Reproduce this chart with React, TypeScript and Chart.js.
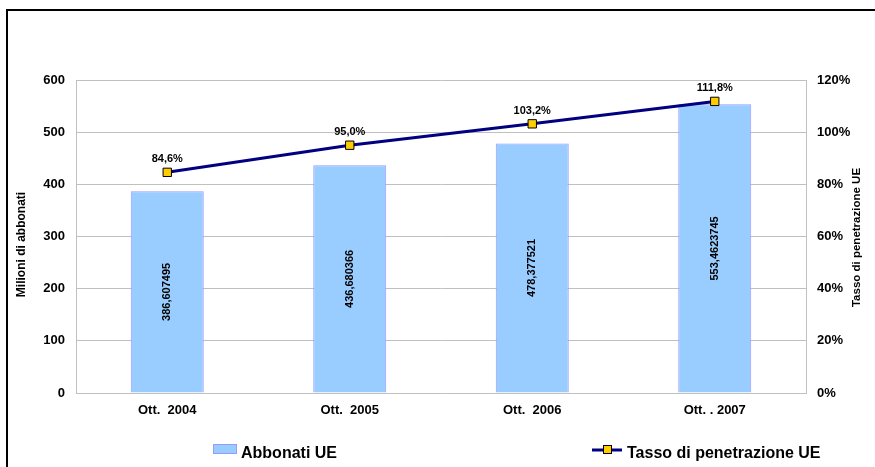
import React, { useEffect, useRef } from "react";
import { Chart, registerables } from "chart.js";

Chart.register(...registerables);

const categories = ["Ott.  2004", "Ott.  2005", "Ott.  2006", "Ott. . 2007"];
const abbonati = [386.607495, 436.680366, 478.377521, 553.4623745];
const tasso = [84.6, 95.0, 103.2, 111.8];
const leftMax = 600;
const leftStep = 100;
const rightMax = 120;
const rightStep = 20;
const leftTitle = "Milioni di abbonati";
const rightTitle = "Tasso di penetrazione UE";
const barLegend = "Abbonati UE";
const lineLegend = "Tasso di penetrazione UE";

const FF = '"Liberation Sans", Arial, Helvetica, sans-serif';
const BAR_FILL = "#99ccff";
const BAR_BORDER = "#9999ff";
const LINE_COLOR = "#000080";
const MARKER_FILL = "#ffcc00";
const GRID = "#c0c0c0";

const fmtNum = (v: number) => String(v).replace(".", ",");
const fmtPct = (v: number) => v.toFixed(1).replace(".", ",") + "%";

const overlay = {
  id: "overlay",
  afterDatasetsDraw(chart: any) {
    const ctx = chart.ctx as CanvasRenderingContext2D;
    ctx.save();
    ctx.fillStyle = "#000";
    ctx.textAlign = "center";
    ctx.textBaseline = "middle";
    // bar value labels (rotated)
    ctx.font = `bold 11px ${FF}`;
    const barMeta = chart.getDatasetMeta(1);
    barMeta.data.forEach((el: any, i: number) => {
      const p = el.getProps(["x", "y", "base"], true);
      ctx.save();
      ctx.translate(p.x, (p.y + p.base) / 2);
      ctx.rotate(-Math.PI / 2);
      ctx.fillText(fmtNum(abbonati[i]), 0, 0);
      ctx.restore();
    });
    // point labels
    const lineMeta = chart.getDatasetMeta(0);
    lineMeta.data.forEach((el: any, i: number) => {
      const p = el.getProps(["x", "y"], true);
      ctx.fillText(fmtPct(tasso[i]), p.x, p.y - 13);
    });
    ctx.restore();
  },
  afterDraw(chart: any) {
    const ctx = chart.ctx as CanvasRenderingContext2D;
    const ca = chart.chartArea;
    const cy = (ca.top + ca.bottom) / 2;
    ctx.save();
    ctx.fillStyle = "#000";
    ctx.textAlign = "center";
    ctx.textBaseline = "middle";
    // axis titles
    ctx.font = `bold 12px ${FF}`;
    ctx.save();
    ctx.translate(22, cy + 8);
    ctx.rotate(-Math.PI / 2);
    ctx.fillText(leftTitle, 0, 0);
    ctx.restore();
    ctx.font = `bold 11.5px ${FF}`;
    ctx.save();
    ctx.translate(857, cy + 1);
    ctx.rotate(-Math.PI / 2);
    ctx.fillText(rightTitle, 0, 0);
    ctx.restore();

    // legend
    ctx.font = `bold 16px ${FF}`;
    ctx.textAlign = "left";
    ctx.textBaseline = "alphabetic";
    ctx.fillStyle = BAR_FILL;
    ctx.fillRect(213, 444, 24, 10);
    ctx.strokeStyle = BAR_BORDER;
    ctx.lineWidth = 1;
    ctx.strokeRect(213.5, 444.5, 23, 9);
    ctx.fillStyle = "#000";
    ctx.fillText(barLegend, 241, 458);

    ctx.strokeStyle = LINE_COLOR;
    ctx.lineWidth = 3;
    ctx.beginPath();
    ctx.moveTo(592, 450);
    ctx.lineTo(622, 450);
    ctx.stroke();
    ctx.fillStyle = MARKER_FILL;
    ctx.fillRect(603, 445, 9, 9);
    ctx.strokeStyle = "#000";
    ctx.lineWidth = 1;
    ctx.strokeRect(603.5, 445.5, 8, 8);
    ctx.fillStyle = "#000";
    ctx.fillText(lineLegend, 627, 458);
    ctx.restore();
  },
};

export default function App() {
  const ref = useRef<HTMLCanvasElement | null>(null);

  useEffect(() => {
    if (!ref.current) return;
    const tickFont = { family: FF, size: 13, weight: "bold" as const };
    const chart = new Chart(ref.current, {
      type: "bar",
      data: {
        labels: categories,
        datasets: [
          {
            type: "line" as const,
            label: lineLegend,
            data: tasso,
            yAxisID: "y1",
            borderColor: LINE_COLOR,
            borderWidth: 3,
            pointStyle: "rect",
            pointRadius: 5.9,
            pointBackgroundColor: MARKER_FILL,
            pointBorderColor: "#000",
            pointBorderWidth: 1,
            tension: 0,
            order: 0,
          },
          {
            type: "bar" as const,
            label: barLegend,
            data: abbonati,
            yAxisID: "y",
            backgroundColor: BAR_FILL,
            borderColor: BAR_BORDER,
            borderWidth: 1,
            categoryPercentage: 1,
            barPercentage: 0.4,
            order: 1,
          },
        ],
      },
      options: {
        animation: false,
        responsive: false,
        layout: { padding: { top: 80, left: 0, right: 0, bottom: 0 } },
        plugins: {
          legend: { display: false },
          tooltip: { enabled: false },
          title: { display: false },
        },
        scales: {
          x: {
            grid: { display: false, drawTicks: false },
            border: { display: true, color: GRID, width: 1 },
            ticks: { font: tickFont, color: "#000", padding: 10, maxRotation: 0 },
            afterFit: (s: any) => {
              s.height = 74;
            },
          },
          y: {
            position: "left",
            min: 0,
            max: leftMax,
            ticks: { stepSize: leftStep, font: tickFont, color: "#000", padding: 11 },
            grid: { color: GRID, drawTicks: false, lineWidth: 1 },
            border: { display: true, color: GRID, width: 1 },
            afterFit: (s: any) => {
              s.width = 76;
            },
          },
          y1: {
            position: "right",
            min: 0,
            max: rightMax,
            ticks: {
              stepSize: rightStep,
              font: tickFont,
              color: "#000",
              padding: 11,
              callback: (v: any) => v + "%",
            },
            grid: { drawOnChartArea: false, drawTicks: false },
            border: { display: true, color: GRID, width: 1 },
            afterFit: (s: any) => {
              s.width = 69;
            },
          },
        },
      },
      plugins: [overlay],
    } as any);
    return () => chart.destroy();
  }, []);

  return (
    <div style={{ position: "absolute", left: 0, top: 0, width: 875, height: 467, overflow: "hidden", background: "#fff" }}>
      <div
        style={{
          position: "absolute",
          left: 6,
          top: 9,
          width: 900,
          height: 500,
          border: "2px solid #000",
          boxSizing: "border-box",
        }}
      />
      <canvas ref={ref} width={875} height={467} style={{ position: "absolute", left: 0, top: 0, display: "block" }} />
    </div>
  );
}
